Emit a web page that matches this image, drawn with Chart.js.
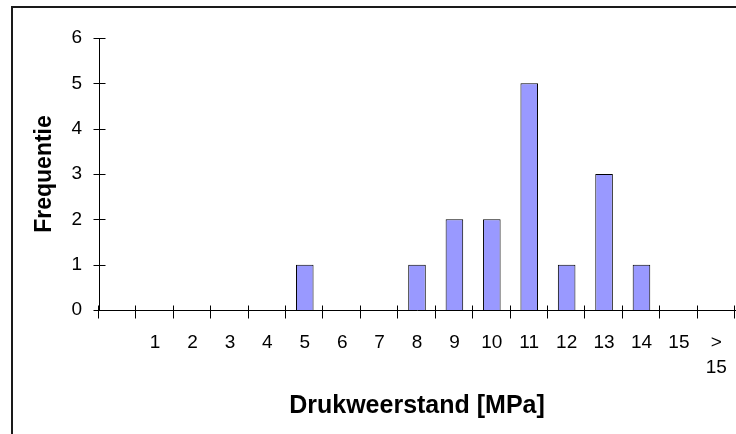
<!DOCTYPE html>
<html>
<head>
<meta charset="utf-8">
<script src="https://cdn.jsdelivr.net/npm/chart.js@4"></script>
<style>
  html, body { margin: 0; padding: 0; background: #fff; }
  #wrap { position: relative; width: 736px; height: 434px; }
</style>
</head>
<body>
<div id="wrap"><canvas id="c" width="736" height="434"></canvas></div>
<script>
// Histogram of compressive strength classes
const categories = ['', '1', '2', '3', '4', '5', '6', '7', '8', '9', '10', '11', '12', '13', '14', '15', ['>', '15']];
const frequencies = [0, 0, 0, 0, 0, 1, 0, 0, 1, 2, 2, 5, 1, 3, 1, 0, 0];
const yMin = 0;
const yMax = 6;
const yStep = 1;

const FONT = "'Liberation Sans', Arial, sans-serif";

// Frame line along the top and left of the drawing
const framePlugin = {
  id: 'frame',
  beforeDraw(chart) {
    const ctx = chart.ctx;
    ctx.save();
    ctx.fillStyle = '#1a1a1a';
    ctx.fillRect(11, 6, chart.width, 2);
    ctx.fillRect(11, 6, 2, chart.height);
    ctx.restore();
  }
};

// Axis lines with tick marks that cross the axis
const axesPlugin = {
  id: 'crossAxes',
  afterDatasetsDraw(chart) {
    const ctx = chart.ctx;
    const x = chart.scales.x;
    const y = chart.scales.y;
    const area = chart.chartArea;
    const x0 = Math.round(area.left) + 0.5;
    const y0 = Math.round(y.getPixelForValue(yMin)) + 0.5;
    ctx.save();
    ctx.strokeStyle = '#000';
    ctx.lineWidth = 1;
    ctx.beginPath();
    // vertical axis
    ctx.moveTo(x0, Math.round(y.getPixelForValue(yMax)) + 0.5);
    ctx.lineTo(x0, y0);
    // horizontal axis
    ctx.moveTo(x0, y0);
    ctx.lineTo(chart.width, y0);
    // value ticks
    for (let v = yMin; v <= yMax; v += yStep) {
      const py = Math.round(y.getPixelForValue(v)) + 0.5;
      ctx.moveTo(x0 - 6, py);
      ctx.lineTo(x0 + 6, py);
    }
    // category boundary ticks
    for (let i = 0; i <= categories.length; i++) {
      const px = Math.round(x.getPixelForValue(i - 0.5)) - 0.5;
      ctx.moveTo(px, y0 - 5);
      ctx.lineTo(px, y0 + 8);
    }
    ctx.stroke();
    ctx.restore();
  }
};

new Chart(document.getElementById('c'), {
  type: 'bar',
  data: {
    labels: categories,
    datasets: [{
      data: frequencies,
      backgroundColor: '#9999ff',
      borderColor: '#000',
      borderWidth: 1,
      borderSkipped: 'start',
      barPercentage: 0.47,
      categoryPercentage: 1.0
    }]
  },
  options: {
    responsive: false,
    animation: false,
    devicePixelRatio: 1,
    layout: { padding: { top: 38, right: 1, left: 0, bottom: 0 } },
    plugins: {
      legend: { display: false },
      tooltip: { enabled: false }
    },
    scales: {
      x: {
        type: 'category',
        offset: true,
        grid: { display: false, drawTicks: false },
        border: { display: false },
        ticks: {
          color: '#000',
          font: { family: FONT, size: 19, lineHeight: 1.32 },
          padding: 20,
          maxRotation: 0,
          minRotation: 0,
          autoSkip: false
        },
        title: {
          display: true,
          text: 'Drukweerstand [MPa]',
          color: '#000',
          font: { family: FONT, size: 25, weight: 'bold', lineHeight: 1.2 },
          padding: { top: 0, bottom: 13 }
        },
        afterFit(scale) {
          scale.height = 124;
          scale.paddingLeft = 0;
          scale.paddingRight = 0;
        }
      },
      y: {
        min: yMin,
        max: yMax,
        grid: { display: false, drawTicks: false },
        border: { display: false },
        ticks: {
          stepSize: yStep,
          color: '#000',
          font: { family: FONT, size: 19 },
          padding: 17
        },
        title: {
          display: true,
          text: 'Frequentie',
          color: '#000',
          font: { family: FONT, size: 23, weight: 'bold', lineHeight: 1.2 },
          padding: { top: 31, bottom: 0 }
        },
        afterFit(scale) {
          scale.width = 99;
          scale.paddingTop = 0;
          scale.paddingBottom = 0;
        }
      }
    }
  },
  plugins: [framePlugin, axesPlugin]
});
</script>
</body>
</html>
